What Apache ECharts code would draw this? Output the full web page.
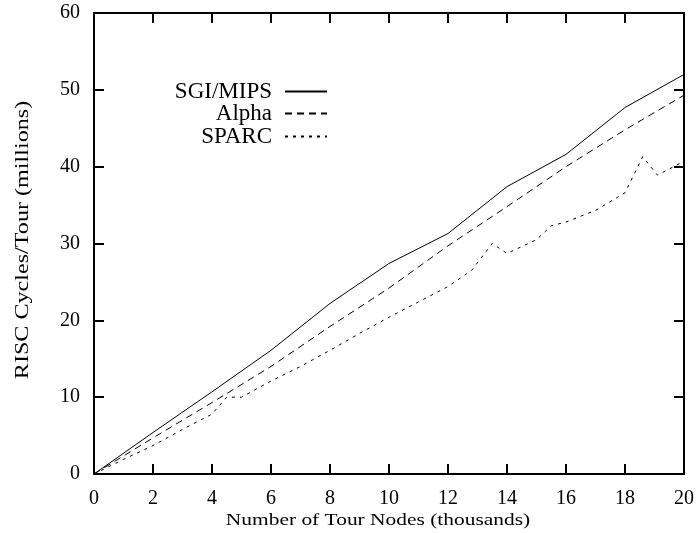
<!DOCTYPE html>
<html><head><meta charset="utf-8">
<script src="https://cdn.jsdelivr.net/npm/echarts@6/dist/echarts.min.js"></script>
<style>html,body{margin:0;padding:0;background:#fff}#c{width:699px;height:533px}</style>
</head><body><div id="c"></div>
<script>
const xTicks = [0,2,4,6,8,10,12,14,16,18,20];
const yTicks = [0,10,20,30,40,50,60];
const sgiX = [0,2,4,6,8,10,12,14,16,18,20];
const sgiY = [0,5.4,10.7,16.1,22.2,27.4,31.3,37.4,41.6,47.7,52.0];
const alphaX = [0,2,4,6,8,10,12,14,16,18,20];
const alphaY = [0,4.7,9.3,14.0,19.2,24.2,29.7,34.8,40.0,44.8,49.3];
const sparcX = [0,1,2,3,4,4.5,5,6,7,8,9,10,11,12,12.8,13.5,14,15,15.5,16,17,18,18.6,19.1,20];
const sparcY = [0,1.9,3.7,5.8,7.8,10.0,10.0,12.1,14.0,16.1,18.3,20.4,22.4,24.4,26.5,30.0,28.7,30.5,32.3,32.8,34.3,36.6,41.3,38.9,40.7];
const names = ['SGI/MIPS','Alpha','SPARC'];
const xName = 'Number of Tour Nodes (thousands)';
const yName = 'RISC Cycles/Tour (millions)';

const pair = (xs, ys) => xs.map((x,i)=>[x, ys[i]]);
const font = 'Liberation Serif';
const axisCommon = {
  axisLine:{show:true, onZero:false, lineStyle:{color:'#000', width:2}},
  axisTick:{show:true, inside:true, length:10, lineStyle:{color:'#000', width:2}},
  splitLine:{show:false}
};
const chart = echarts.init(document.getElementById('c'));
const mkLegend = (name, top) => ({
  data:[name], right: 699-328, top: top, orient:'vertical', align:'right',
  itemWidth:42, itemHeight:10, itemGap:0, padding:0,
  itemStyle:{opacity:0},
  textStyle:{fontFamily:font, fontSize:23, color:'#000', padding:[0,8,0,0]},
  selectedMode:false
});
chart.setOption({
  animation:false,
  grid:{left:94, right:15, top:13, bottom:59},
  legend:[mkLegend(names[0],80), mkLegend(names[1],102), mkLegend(names[2],125)],
  graphic:[
    {type:'text', x:378, y:521, scaleX:1.26, silent:true,
     style:{text:xName, font:'17px "Liberation Serif"', fill:'#000', align:'center', verticalAlign:'middle'}},
    {type:'text', x:23, y:240, rotation:Math.PI/2, scaleX:1.34, silent:true,
     style:{text:yName, font:'18px "Liberation Serif"', fill:'#000', align:'center', verticalAlign:'middle'}}
  ],
  xAxis:[
    Object.assign({type:'value', min:0, max:20, interval:2, position:'bottom',
      axisLabel:{fontFamily:font, fontSize:20, color:'#000', margin:15,
        formatter:v=>xTicks.includes(v)?String(v):''}}, axisCommon),
    Object.assign({type:'value', min:0, max:20, interval:2, position:'top', axisLabel:{show:false}}, axisCommon)
  ],
  yAxis:[
    Object.assign({type:'value', min:0, max:60, interval:10, position:'left',
      axisLabel:{fontFamily:font, fontSize:20, color:'#000', margin:14,
        formatter:v=>yTicks.includes(v)?String(v):''}}, axisCommon),
    Object.assign({type:'value', min:0, max:60, interval:10, position:'right', axisLabel:{show:false}}, axisCommon)
  ],
  series:[
    {name:names[0], type:'line', data:pair(sgiX,sgiY), showSymbol:false, symbol:'none',
     lineStyle:{color:'#000', width:1, type:'solid'}, itemStyle:{color:'#000'}},
    {name:names[1], type:'line', data:pair(alphaX,alphaY), showSymbol:false, symbol:'none',
     lineStyle:{color:'#000', width:1, type:[7,5]}, itemStyle:{color:'#000'}},
    {name:names[2], type:'line', data:pair(sparcX,sparcY), showSymbol:false, symbol:'none',
     lineStyle:{color:'#000', width:1, type:[3,5]}, itemStyle:{color:'#000'}}
  ]
});
</script></body></html>
